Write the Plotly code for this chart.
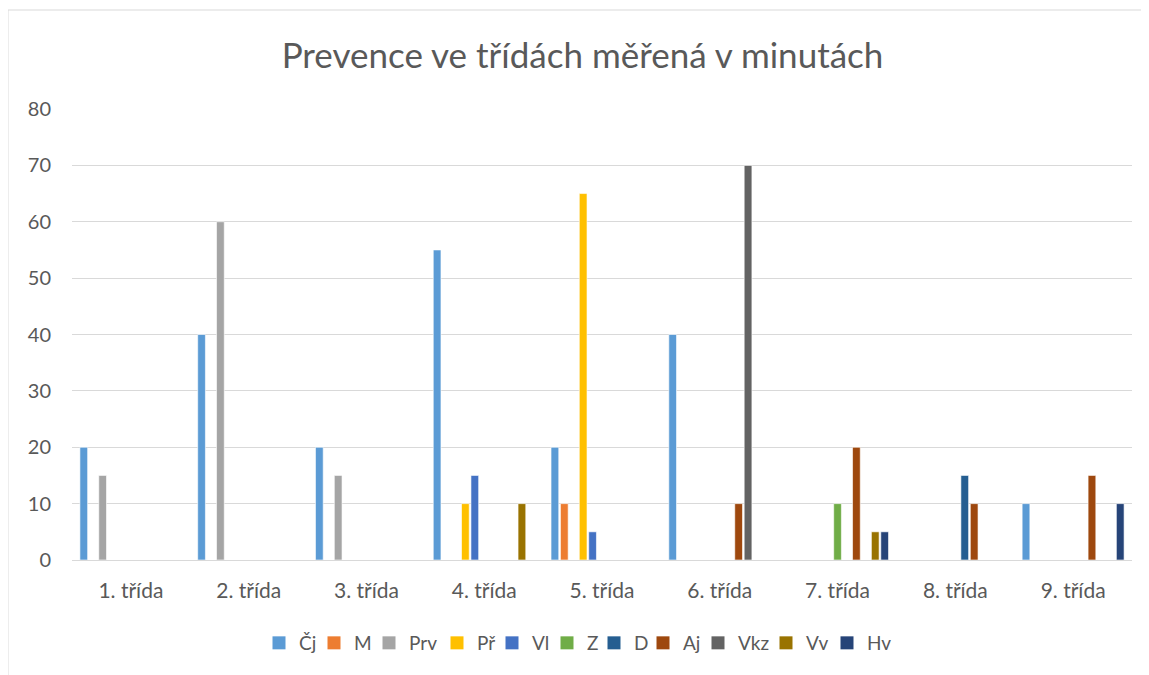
import plotly.graph_objects as go

categories = ["1. třída", "2. třída", "3. třída", "4. třída", "5. třída",
              "6. třída", "7. třída", "8. třída", "9. třída"]
series_names = ["Čj", "M", "Prv", "Př", "Vl", "Z", "D", "Aj", "Vkz", "Vv", "Hv"]
cj = [20, 40, 20, 55, 20, 40, 0, 0, 10]
m = [0, 0, 0, 0, 10, 0, 0, 0, 0]
prv = [15, 60, 15, 0, 0, 0, 0, 0, 0]
pr = [0, 0, 0, 10, 65, 0, 0, 0, 0]
vl = [0, 0, 0, 15, 5, 0, 0, 0, 0]
z = [0, 0, 0, 0, 0, 0, 10, 0, 0]
d = [0, 0, 0, 0, 0, 0, 0, 15, 0]
aj = [0, 0, 0, 0, 0, 10, 20, 10, 15]
vkz = [0, 0, 0, 0, 0, 70, 0, 0, 0]
vv = [0, 0, 0, 10, 0, 0, 5, 0, 0]
hv = [0, 0, 0, 0, 0, 0, 5, 0, 10]
series_values = [cj, m, prv, pr, vl, z, d, aj, vkz, vv, hv]
colors = ["#5B9BD5", "#ED7D31", "#A5A5A5", "#FFC000", "#4472C4", "#70AD47",
          "#255E91", "#9E480E", "#636363", "#997300", "#264478"]
y_ticks = [0, 10, 20, 30, 40, 50, 60, 70, 80]

# layout: pixel x where each legend entry's text starts in the reference
legend_text_px = [303, 358, 413, 481, 536, 591, 638, 687, 742, 810, 871]

PLOT_L, PLOT_W = 64, 1060
font_family = "Lato, 'Open Sans', sans-serif"

fig = go.Figure()
legend_layouts = {}
for i, (name, vals, col) in enumerate(zip(series_names, series_values, colors)):
    lg = "legend" if i == 0 else f"legend{i + 1}"
    fig.add_trace(go.Bar(
        x=categories, y=vals, name=name, legend=lg, showlegend=False,
        marker=dict(color=col, line=dict(color="rgba(255,255,255,0.6)", width=1)),
    ))
    fig.add_trace(go.Scatter(
        x=[None], y=[None], mode="markers", name=name, legend=lg,
        marker=dict(symbol="square", size=13, color=col, line=dict(width=0)),
        hoverinfo="skip",
    ))
    left_px = legend_text_px[i] - 8 - 44
    legend_layouts[lg] = dict(
        orientation="h", x=(left_px - PLOT_L) / PLOT_W, xanchor="left",
        y=-0.184, yanchor="middle", bgcolor="rgba(0,0,0,0)", borderwidth=0,
        font=dict(family=font_family, size=19, color="#595959"), itemwidth=30,
    )

fig.update_layout(
    width=1149, height=675,
    barmode="group", bargap=0.12, bargroupgap=0.18,
    paper_bgcolor="white", plot_bgcolor="white",
    margin=dict(l=64, r=25, t=101, b=123, autoexpand=False),
    title=dict(text="Prevence ve třídách měřená v minutách",
               x=0.5, xanchor="center", y=0.930, yanchor="middle",
               font=dict(family=font_family, size=35, color="#595959")),
    font=dict(family=font_family, color="#595959"),
    xaxis=dict(showgrid=False, showline=True, linecolor="#D9D9D9", linewidth=1,
               ticks="", automargin=False, ticklabelstandoff=12,
               tickfont=dict(size=21, color="#595959")),
    yaxis=dict(range=[0, 80], tickvals=y_ticks, showgrid=True, gridcolor="#D9D9D9",
               gridwidth=1, zeroline=False, showline=False, ticks="",
               automargin=False, ticklabelstandoff=20,
               tickfont=dict(size=20, color="#595959")),
    shapes=[dict(type="rect", xref="paper", yref="paper",
                 x0=-0.0604, x1=1.04, y0=-0.30, y1=1.2195,
                 line=dict(color="#D9D9D9", width=1), fillcolor="rgba(0,0,0,0)")],
    **legend_layouts,
)

fig.write_html("out.html")
